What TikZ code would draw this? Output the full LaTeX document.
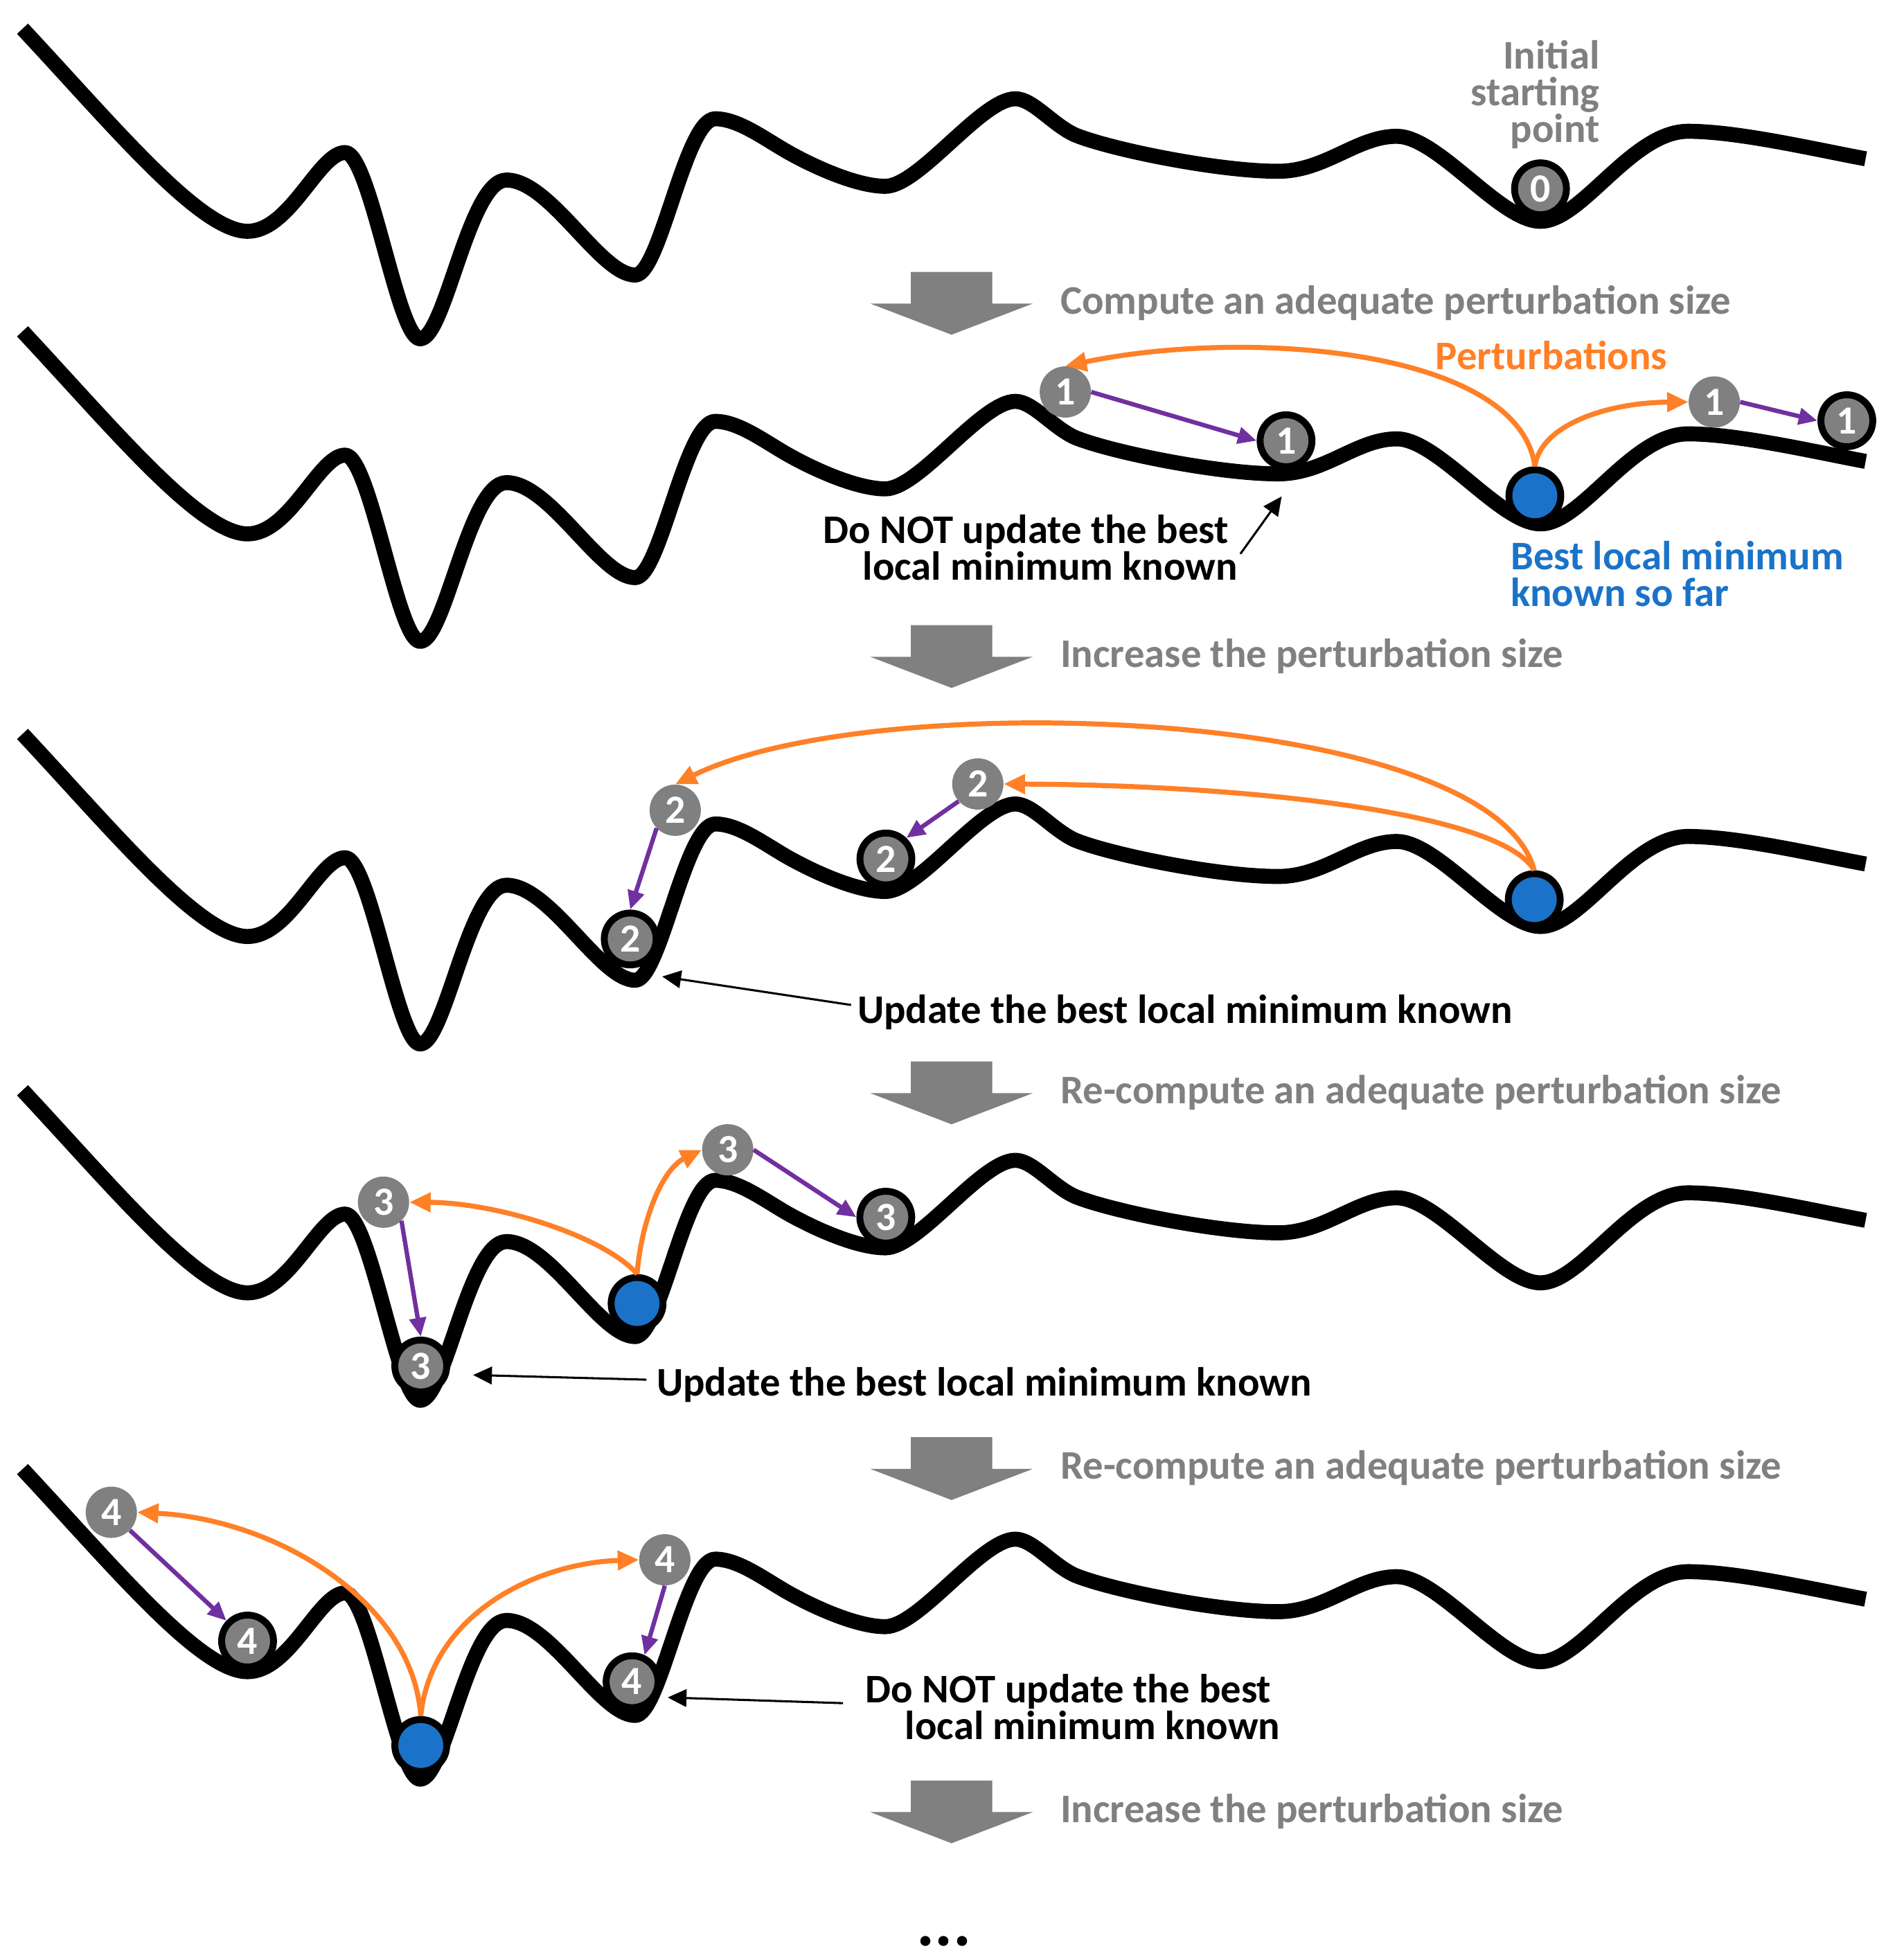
\documentclass[tikz,border=0pt]{standalone}
\usepackage{fontspec}
\setmainfont{Carlito}
\usetikzlibrary{arrows.meta,calc}
\definecolor{grayC}{RGB}{128,128,128}
\definecolor{orangeC}{RGB}{255,128,39}
\definecolor{blueC}{RGB}{26,115,200}
\definecolor{purpleC}{RGB}{112,48,160}
\newcommand{\txtfont}{\fontsize{32.5pt}{29.5pt}\selectfont\bfseries\lineskiplimit=-50pt\relax}
\newcommand{\numfont}{\fontsize{32pt}{32pt}\selectfont\bfseries}
\begin{document}
\begin{tikzpicture}[x=1pt,y=-1pt,
  landscape/.style={line width=12pt,line join=round,line cap=butt},
  gnode/.style={circle,fill=grayC,minimum size=41pt,inner sep=0pt,text=white,font=\numfont},
  bnode/.style={circle,fill=grayC,draw=black,line width=5.5pt,minimum size=41.5pt,inner sep=0pt,text=white,font=\numfont},
  blnode/.style={circle,fill=blueC,draw=black,line width=5.5pt,minimum size=41.5pt,inner sep=0pt},
  pert/.style={orangeC,line width=4pt,-{Triangle[length=17pt,width=15pt]}},
  desc/.style={purpleC,line width=3.5pt,-{Triangle[length=15pt,width=13pt]}},
  pointer/.style={black,line width=1.7pt,-{Triangle[length=15pt,width=14pt]}},
  steptext/.style={text=grayC,font=\txtfont,anchor=base west,inner sep=0pt},
  note/.style={text=black,font=\txtfont,inner sep=0pt},
]
\useasboundingbox (0,0) rectangle (1515,1567.6);

% landscapes
\foreach \dy in {0,242,564,849,1152}{
  \draw[landscape,shift={(0,\dy)}]
    (18,23) .. controls (90,100) and (160,185) .. (198,185)
    .. controls (232,185) and (255,122) .. (276,122)
    .. controls (296,122) and (318,271) .. (336,271)
    .. controls (356,271) and (375,144) .. (405,144)
    .. controls (440,144) and (480,220) .. (508,220)
    .. controls (528,220) and (548,95) .. (572,95)
    .. controls (590,95) and (610,110) .. (629,121)
    .. controls (650,133) and (685,149) .. (708,149)
    .. controls (735,149) and (785,79) .. (812,79)
    .. controls (826,79) and (842,100) .. (860,108)
    .. controls (890,120) and (975,137) .. (1022,137)
    .. controls (1060,137) and (1085,109) .. (1117,109)
    .. controls (1150,109) and (1200,177) .. (1232,177)
    .. controls (1265,177) and (1305,105) .. (1350,105)
    .. controls (1390,105) and (1452,119.6) .. (1492,127);
}

% step arrows
\foreach \t in {217.5,500,849,1149.5,1424}{
  \fill[grayC] (728.5,\t) -- (793.5,\t) -- (793.5,\t+25.3) -- (826,\t+25.3)
    -- (761,\t+50.2) -- (696,\t+25.3) -- (728.5,\t+25.3) -- cycle;
}
\node[steptext] (s1) at (848,251) {Compute an adequate perturbation size};
\node[steptext] (s2) at (848,533.5) {Increase the perturbation size};
\node[steptext] (s3) at (848,882.5) {Re-compute an adequate perturbation size};
\node[steptext] (s4) at (848,1183) {Re-compute an adequate perturbation size};
\node[steptext] (s5) at (848,1457.5) {Increase the perturbation size};

% panel 1
\node[bnode] (n0) at (1232,151) {0};
\node[note,text=grayC,align=right,anchor=north east] (init) at (1279.5,32) {Initial\\starting\\point};

% panel 2
\node[gnode] (g1a) at (852,313.5) {1};
\node[bnode] (b1a) at (1028.5,352.5) {1};
\node[blnode] (bl2) at (1227.5,396.5) {};
\node[gnode] (g1b) at (1371,321.5) {1};
\node[bnode] (b1b) at (1477,336.5) {1};
\draw[pert] (bl2.north) .. controls (1215,280) and (1000,262) .. (g1a.north);
\draw[pert] (bl2.north) .. controls (1232,340) and (1285,322) .. (g1b.west);
\draw[desc] (g1a.east) -- (b1a.west);
\draw[desc] (g1b.east) -- (b1b.west);
\node[text=orangeC,font=\txtfont,inner sep=0pt,anchor=base west] (pt) at (1148,295.3) {Perturbations};
\node[note,align=right,anchor=north east] (t2) at (990,411.5) {Do NOT update the best\hspace*{7.3pt}\\local minimum known};
\node[text=blueC,font=\txtfont,inner sep=0pt,align=left,anchor=north west] (bt) at (1208,432.5) {Best local minimum\\known so far};
\coordinate (p2) at (1025,397);
\draw[pointer] ($(t2.east)+(2,5)$) -- (p2);

% panel 3
\node[blnode] (bl3) at (1227,719.5) {};
\node[gnode] (g2a) at (540,648) {2};
\node[gnode] (g2b) at (782,627) {2};
\node[bnode] (b2a) at (504,751) {2};
\node[bnode] (b2b) at (708.5,687) {2};
\draw[pert] (bl3.north) .. controls (1192,566) and (700,548) .. (g2a.north);
\draw[pert] (bl3.north) .. controls (1200,650) and (1000,628) .. (g2b.east);
\draw[desc] (g2a.-136) -- (b2a.north);
\draw[desc] (g2b.-138) -- (b2b.46);
\node[note,anchor=base west] (t3) at (685.6,818.6) {Update the best local minimum known};
\coordinate (p3) at (529.6,781);
\draw[pointer] ($(t3.west)+(-5,-6)$) -- (p3);

% panel 4
\node[blnode] (bl4) at (509.5,1042.5) {};
\node[gnode] (g3a) at (306.7,961.5) {3};
\node[gnode] (g3b) at (582,919.6) {3};
\node[bnode] (b3a) at (336.5,1092.5) {3};
\node[bnode] (b3b) at (708.4,973.5) {3};
\draw[pert] (bl4.north) .. controls (485,990) and (400,962) .. (g3a.east);
\draw[pert] (bl4.north) .. controls (513,975) and (530,935) .. (g3b.west);
\draw[desc] (g3a.-46) -- (b3a.north);
\draw[desc] (g3b.east) -- (b3b.west);
\node[note,anchor=base west] (t4) at (525,1116.3) {Update the best local minimum known};
\coordinate (p4) at (378.4,1099.7);
\draw[pointer] ($(t4.west)+(-8,-4)$) -- (p4);

% panel 5
\node[blnode] (bl5) at (336.5,1396) {};
\node[gnode] (g4a) at (89,1209.5) {4};
\node[gnode] (g4b) at (531.7,1247.5) {4};
\node[bnode] (b4a) at (198,1312.5) {4};
\node[bnode] (b4b) at (505.5,1345) {4};
\draw[pert] (bl5.north) .. controls (330,1280) and (220,1215) .. (g4a.east);
\draw[pert] (bl5.north) .. controls (345,1290) and (430,1250) .. (g4b.west);
\draw[desc] (g4a.-44) -- (b4a.136);
\draw[desc] (g4b.south) -- (b4b.65);
\node[note,align=right,anchor=north east] (t5) at (1024,1338.7) {Do NOT update the best\hspace*{7.3pt}\\local minimum known};
\coordinate (p5) at (534,1357.6);
\draw[pointer] ($(t5.west)+(-18,-3)$) -- (p5);

\node[font=\fontsize{54pt}{54pt}\selectfont\bfseries,inner sep=0pt,anchor=base] (dots) at (755,1556) {...};
\end{tikzpicture}
\end{document}
